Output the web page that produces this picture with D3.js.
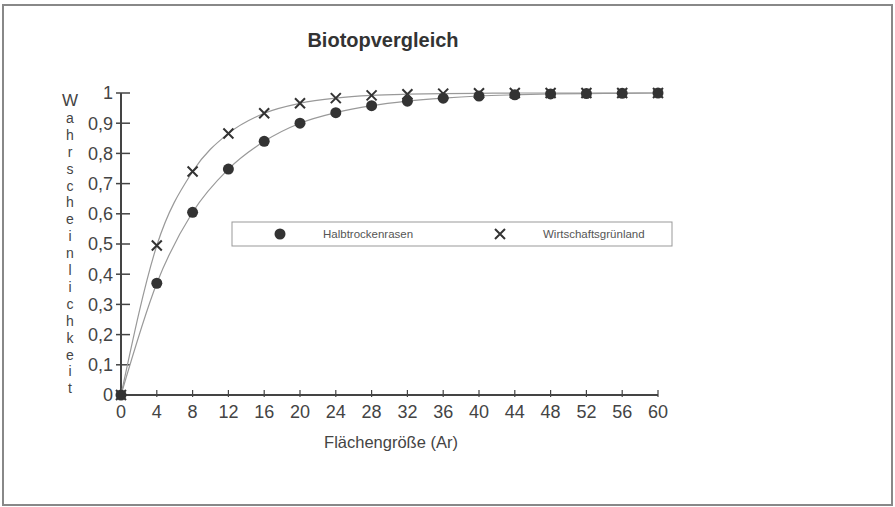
<!DOCTYPE html>
<html>
<head>
 <title>Biotopvergleich</title>
 <script src="https://d3js.org/d3.v7.min.js"></script>
 <style>
  body { margin: 0; background: #fff; }
  text { font-family: "Liberation Sans", Arial, sans-serif; fill: #444; }
 </style>
</head>
<body>
<div id="chart"></div>
<script type="text/javascript">

 // data
 var flaeche = [0, 4, 8, 12, 16, 20, 24, 28, 32, 36, 40, 44, 48, 52, 56, 60];
 var halbtrocken = [0, 0.37, 0.605, 0.748, 0.84, 0.9, 0.935, 0.958, 0.973, 0.983, 0.99, 0.994, 0.997, 0.998, 0.999, 1];
 var gruenland = [0, 0.495, 0.74, 0.866, 0.933, 0.966, 0.983, 0.992, 0.996, 0.998, 0.999, 1, 1, 1, 1, 1];
 var yTicks = [0, 0.1, 0.2, 0.3, 0.4, 0.5, 0.6, 0.7, 0.8, 0.9, 1];
 var xTicks = [0, 4, 8, 12, 16, 20, 24, 28, 32, 36, 40, 44, 48, 52, 56, 60];
 var yLabel = "Wahrscheinlichkeit";

 var W = 895, H = 507;
 var svg = d3.select("#chart").append("svg")
   .attr("width", W).attr("height", H);

 // outer frame
 svg.append("rect")
   .attr("x", 3).attr("y", 5).attr("width", 889).attr("height", 500)
   .attr("fill", "none").attr("stroke", "#888").attr("stroke-width", 2);

 svg.append("text")
   .attr("x", 383).attr("y", 47)
   .attr("text-anchor", "middle")
   .style("font-size", "20px").style("font-weight", "bold").style("fill", "#333")
   .text("Biotopvergleich");

 var x = d3.scaleLinear().domain([0, 60]).range([121, 658]);
 var y = d3.scaleLinear().domain([0, 1]).range([395, 93]);

 var fmt = function(d) { return d === 0 || d === 1 ? String(d) : d3.format(".1f")(d).replace(".", ","); };

 // y axis, ticks crossing the line
 var gy = svg.append("g").attr("transform", "translate(" + x(0) + ",0)");
 gy.append("line").attr("y1", y(0)).attr("y2", y(1)).attr("stroke", "#444").attr("stroke-width", 2);
 gy.selectAll("line.t").data(yTicks).enter().append("line")
   .attr("class", "t")
   .attr("x1", -5).attr("x2", 9)
   .attr("y1", function(d) { return y(d); }).attr("y2", function(d) { return y(d); })
   .attr("stroke", "#444").attr("stroke-width", 1.5);
 gy.selectAll("text").data(yTicks).enter().append("text")
   .attr("x", -8).attr("y", function(d) { return y(d); })
   .attr("dy", "0.36em").attr("text-anchor", "end")
   .style("font-size", "18px")
   .text(fmt);

 // x axis
 var gx = svg.append("g").attr("transform", "translate(0," + y(0) + ")");
 gx.append("line").attr("x1", x(0)).attr("x2", x(60)).attr("stroke", "#444").attr("stroke-width", 2);
 gx.selectAll("line.t").data(xTicks).enter().append("line")
   .attr("class", "t")
   .attr("x1", function(d) { return x(d); }).attr("x2", function(d) { return x(d); })
   .attr("y1", -5).attr("y2", 2)
   .attr("stroke", "#444").attr("stroke-width", 1.2);
 gx.selectAll("text").data(xTicks).enter().append("text")
   .attr("x", function(d) { return x(d); }).attr("y", 23)
   .attr("text-anchor", "middle")
   .style("font-size", "18px")
   .text(function(d) { return d; });

 svg.append("text")
   .attr("x", 391).attr("y", 448)
   .attr("text-anchor", "middle")
   .style("font-size", "16.5px")
   .text("Flächengröße (Ar)");

 // stacked vertical axis title
 svg.append("g").selectAll("text").data(yLabel.split("")).enter().append("text")
   .attr("x", 70).attr("y", function(d, i) { return 106 + i * 16.9; })
   .attr("text-anchor", "middle")
   .style("font-size", function(d, i) { return i === 0 ? "17px" : "14px"; })
   .text(function(d) { return d; });

 var line = d3.line().curve(d3.curveMonotoneX)
   .x(function(d) { return x(d[0]); })
   .y(function(d) { return y(d[1]); });

 var s1 = flaeche.map(function(f, i) { return [f, halbtrocken[i]]; });
 var s2 = flaeche.map(function(f, i) { return [f, gruenland[i]]; });

 svg.append("path").datum(s1).attr("d", line)
   .attr("fill", "none").attr("stroke", "#999").attr("stroke-width", 1.2);
 svg.append("path").datum(s2).attr("d", line)
   .attr("fill", "none").attr("stroke", "#999").attr("stroke-width", 1.2);

 function cross(g, cx, cy, r) {
  g.append("path")
   .attr("d", "M" + (cx - r) + "," + (cy - r) + "L" + (cx + r) + "," + (cy + r) +
              "M" + (cx - r) + "," + (cy + r) + "L" + (cx + r) + "," + (cy - r))
   .attr("stroke", "#333").attr("stroke-width", 2).attr("fill", "none");
 }

 var marks = svg.append("g");
 s2.forEach(function(d) { cross(marks, x(d[0]), y(d[1]), 5); });
 marks.selectAll("circle").data(s1).enter().append("circle")
   .attr("cx", function(d) { return x(d[0]); })
   .attr("cy", function(d) { return y(d[1]); })
   .attr("r", 5.5).attr("fill", "#333");

 // legend
 var lg = svg.append("g");
 lg.append("rect").attr("x", 232).attr("y", 222).attr("width", 440).attr("height", 24)
   .attr("fill", "#fff").attr("stroke", "#999").attr("stroke-width", 1);
 lg.append("circle").attr("cx", 280).attr("cy", 234).attr("r", 5.5).attr("fill", "#333");
 lg.append("text").attr("x", 323).attr("y", 238).style("font-size", "11.5px").style("fill", "#555").text("Halbtrockenrasen");
 cross(lg, 500, 234, 5);
 lg.append("text").attr("x", 543).attr("y", 238).style("font-size", "11.5px").style("fill", "#555").text("Wirtschaftsgrünland");

</script>
</body>
</html>
